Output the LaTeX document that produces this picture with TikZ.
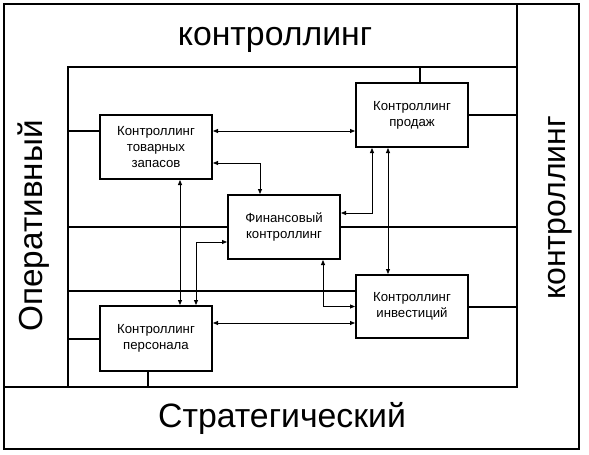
\documentclass[tikz,border=0pt]{standalone}
\usepackage{fontspec}
\setmainfont{Liberation Sans}
\usetikzlibrary{arrows.meta}
\begin{document}
\begin{tikzpicture}[x=1pt,y=-1pt,
  thickln/.style={line width=2pt},
  thinln/.style={line width=0.8pt},
  arr/.style={thinln,{Triangle[length=5pt,width=4pt]}-{Triangle[length=5pt,width=4pt]}},
  box/.style={draw,line width=2pt,minimum width=112pt,minimum height=64pt,inner sep=0pt,
    align=center,font=\fontsize{13.2}{16}\selectfont},
  biglbl/.style={font=\fontsize{33.8}{38}\selectfont,anchor=base,inner sep=0pt}]
\useasboundingbox (0,0) rectangle (589,455);
% frame coordinates
\coordinate (OTL) at (4,4);
\coordinate (OBR) at (579,449);
\coordinate (DT) at (517,4);
\coordinate (DB) at (517,387);
\coordinate (HL) at (4,387);
\coordinate (ITL) at (68,67);
\coordinate (IBL) at (68,387);
\coordinate (ITR) at (517,67);
\draw[thickln] (OTL) rectangle (OBR);
\draw[thickln] (DT) -- (DB) -- (HL);
\draw[thickln] (ITR) -- (ITL) -- (IBL);
% boxes
\node[box] (tov) at (156,147) {Контроллинг\\товарных\\запасов};
\node[box] (prod) at (412,115) {Контроллинг\\продаж};
\node[box] (fin) at (284,227) {Финансовый\\контроллинг};
\node[box,minimum height=63pt] (inv) at (412,306.5) {Контроллинг\\инвестиций};
\node[box,minimum height=65pt] (pers) at (156,338.5) {Контроллинг\\персонала};
% connections to frame
\draw[thickln] ([yshift=16pt]tov.west) -- ([yshift=16pt]tov.west -| ITL);
\draw[thickln] (fin.west) -- (fin.west -| ITL);
\draw[thickln] (fin.east) -- (fin.east -| ITR);
\draw[thickln] ([yshift=15.5pt]inv.west) -- ([yshift=15.5pt]inv.west -| ITL);
\draw[thickln] (pers.west) -- (pers.west -| ITL);
\draw[thickln] ([xshift=-8pt]pers.south) -- ([xshift=-8pt]pers.south |- IBL);
\draw[thickln] ([xshift=8pt]prod.north) -- ([xshift=8pt]prod.north |- ITR);
\draw[thickln] (prod.east) -- (prod.east -| ITR);
\draw[thickln] (inv.east) -- (inv.east -| ITR);
% arrows
\draw[arr] ([yshift=16pt]tov.east) -- ([yshift=16pt]tov.east -| prod.west);
\draw[arr] ([yshift=-16pt]tov.east) -| ([xshift=-24pt]fin.north);
\draw[arr] ([xshift=24pt]tov.south) -- ([xshift=24pt]pers.north);
\draw[arr] ([xshift=40pt]pers.north) |- ([yshift=-15pt]fin.west);
\draw[arr] ([yshift=14pt]fin.east) -| ([xshift=-40pt]prod.south);
\draw[arr] ([xshift=-24pt]prod.south) -- ([xshift=-24pt]inv.north);
\draw[arr] ([xshift=39pt]fin.south) |- (inv.west);
\draw[arr] ([yshift=15.5pt]pers.east) -- ([yshift=15.5pt]pers.east -| inv.west);
% big labels
\node[biglbl] (top) at (275,45) {контроллинг};
\node[biglbl,font=\fontsize{33.3}{38}\selectfont,rotate=90] (left) at (42,226) {Оперативный};
\node[biglbl,font=\fontsize{32}{36}\selectfont,rotate=90] (right) at (565,208) {контроллинг};
\node[biglbl] (bottom) at (282,427) {Стратегический};
\end{tikzpicture}
\end{document}
